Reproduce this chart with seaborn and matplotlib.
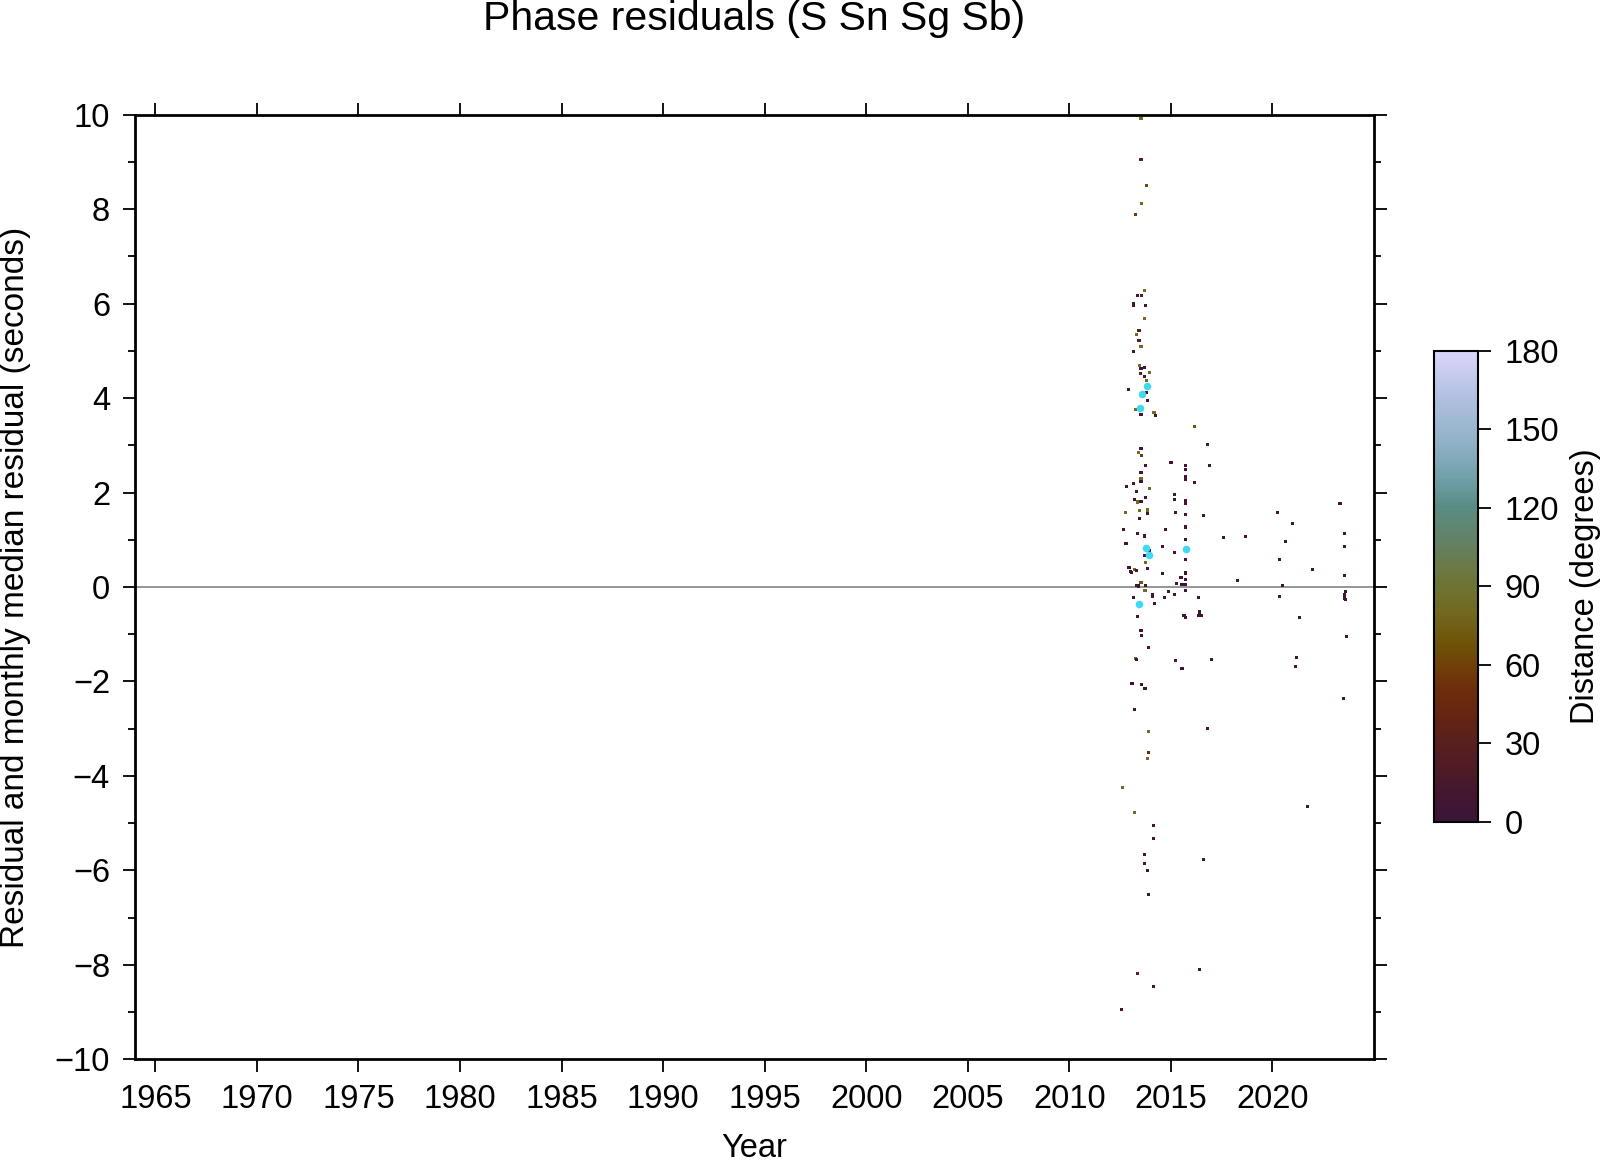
import numpy as np
import pandas as pd
import matplotlib
matplotlib.use("Agg")
import matplotlib.pyplot as plt
from matplotlib.colors import LinearSegmentedColormap, Normalize
from matplotlib.cm import ScalarMappable
from matplotlib.ticker import MultipleLocator
import seaborn as sns

# ---------------- data ----------------
D, M, B, O = 8, 30, 55, 82   # approximate distance classes (degrees)

res_year = [
    2013.53, 2013.53, 2013.79, 2013.55, 2013.25, 2013.69, 2013.37, 2013.55, 2013.18, 2013.15,
    2013.74, 2013.71, 2013.43, 2013.30, 2013.43, 2013.53, 2013.18, 2013.45, 2013.53, 2013.69,
    2013.50, 2013.69, 2013.97, 2013.78,
    2012.92, 2013.79, 2013.84, 2013.28, 2013.53, 2014.17, 2014.24, 2016.15, 2016.80, 2013.53,
    2013.40, 2013.55, 2015.01, 2013.74, 2015.70, 2015.70, 2016.89, 2013.53, 2015.70, 2015.70,
    2013.53, 2013.53, 2016.15, 2012.81, 2013.15, 2013.97, 2013.30, 2015.16, 2013.20, 2013.74,
    2015.16, 2013.38, 2013.53, 2015.70, 2015.70, 2015.70, 2012.76, 2013.46, 2013.83, 2013.84,
    2015.21, 2015.70, 2016.59, 2013.46, 2015.70, 2012.66, 2014.73, 2013.35, 2013.71, 2015.70,
    2012.79, 2014.57, 2015.16, 2013.69, 2013.96, 2015.70, 2013.74, 2012.94, 2013.83, 2013.02,
    2013.05, 2013.23, 2013.30, 2014.57, 2015.70, 2015.73, 2015.50, 2015.70, 2015.26, 2015.55,
    2015.73, 2013.53, 2013.32, 2013.41, 2013.74, 2013.73, 2014.88, 2014.09, 2014.11, 2015.16,
    2014.68, 2013.15, 2016.36, 2015.70, 2014.19, 2013.35, 2015.65, 2015.72, 2016.39, 2016.34,
    2016.51,
    2023.33, 2020.24, 2021.00, 2020.65, 2023.56, 2023.56, 2017.58, 2018.68, 2020.34, 2021.98,
    2023.56, 2018.27, 2020.49, 2023.58, 2023.56, 2023.56, 2023.58, 2020.34, 2021.33, 2023.64,
    2021.18, 2021.15, 2023.51, 2015.21, 2016.99, 2015.55, 2021.74,
    2013.53, 2013.55, 2013.88, 2013.25, 2013.32, 2013.09, 2013.55, 2013.73, 2013.23, 2013.89,
    2016.80, 2013.88, 2013.83, 2012.61, 2013.20, 2014.14, 2014.14, 2013.69, 2013.69, 2013.83,
    2016.59, 2013.88, 2016.39, 2013.35, 2014.14, 2012.56,
]

res_value = [
    9.92, 9.05, 8.50, 8.12, 7.88, 6.28, 6.17, 6.17, 6.01, 5.96,
    5.96, 5.69, 5.44, 5.34, 5.21, 5.09, 4.99, 4.69, 4.63, 4.65,
    4.52, 4.45, 4.54, 4.38,
    4.19, 4.12, 3.94, 3.76, 3.66, 3.69, 3.63, 3.39, 3.01, 2.93,
    2.84, 2.79, 2.63, 2.57, 2.58, 2.49, 2.57, 2.42, 2.34, 2.28,
    2.29, 2.23, 2.21, 2.12, 2.19, 2.08, 2.02, 1.96, 1.86, 1.90,
    1.85, 1.80, 1.81, 1.83, 1.80, 1.76, 1.57, 1.62, 1.63, 1.56,
    1.57, 1.54, 1.51, 1.45, 1.27, 1.21, 1.21, 1.14, 1.08, 1.01,
    0.93, 0.86, 0.73, 0.66, 0.78, 0.59, 0.52, 0.42, 0.40, 0.33,
    0.30, 0.37, 0.35, 0.29, 0.31, 0.28, 0.20, 0.16, 0.08, 0.06,
    0.06, 0.09, 0.03, 0.02, 0.03, -0.08, -0.09, -0.16, -0.21, -0.15,
    -0.22, -0.23, -0.22, -0.08, -0.35, -0.63, -0.60, -0.65, -0.53, -0.60,
    -0.60,
    1.76, 1.57, 1.35, 0.96, 1.13, 0.85, 1.04, 1.07, 0.58, 0.37,
    0.25, 0.13, 0.04, -0.09, -0.17, -0.25, -0.27, -0.21, -0.65, -1.04,
    -1.50, -1.69, -2.37, -1.56, -1.53, -1.73, -4.65,
    -0.92, -1.03, -1.28, -1.52, -1.54, -2.05, -2.06, -2.15, -2.60, -3.06,
    -3.00, -3.50, -3.64, -4.25, -4.78, -5.05, -5.33, -5.66, -5.85, -6.00,
    -5.77, -6.51, -8.10, -8.18, -8.46, -8.94,
]

res_distance = [
    O, M, 65, O, B, O, D, M, D, D,
    D, O, M, O, M, O, D, O, D, D,
    M, D, O, O,
    D, D, D, O, D, O, D, 70, D, D,
    O, B, D, D, D, D, D, D, D, D,
    O, D, D, D, D, O, D, D, D, D,
    D, O, D, D, D, D, O, O, O, D,
    D, D, D, D, D, D, D, D, D, D,
    D, D, D, D, D, D, O, D, D, D,
    D, O, D, D, D, D, D, D, D, D,
    D, 70, D, D, D, O, D, D, D, D,
    D, D, D, D, D, D, D, D, D, D,
    D,
    D, D, D, D, D, D, D, D, D, D,
    D, D, D, D, D, D, D, D, D, D,
    D, D, D, D, D, D, D,
    D, D, D, O, D, D, D, D, D, O,
    D, 45, O, O, O, D, D, D, D, D,
    D, D, D, M, D, D,
]

med_year = [2013.84, 2013.60, 2013.50, 2013.79, 2013.92, 2015.77, 2013.43]
med_value = [4.26, 4.09, 3.78, 0.82, 0.68, 0.80, -0.36]

cbar_ticks = [0, 30, 60, 90, 120, 150, 180]
x_ticks = list(range(1965, 2025, 5))
y_ticks = list(range(-10, 11, 2))

# ---------------- colormap ----------------
cmap_colors = [
    (0.00, "#3a1438"), (0.08, "#48182c"), (0.15, "#561e20"), (0.22, "#642412"),
    (0.28, "#6e2e0c"), (0.33, "#704008"), (0.38, "#6e5408"), (0.45, "#726a20"),
    (0.53, "#6c7840"), (0.60, "#628268"), (0.67, "#5a8c84"), (0.73, "#70a0a8"),
    (0.80, "#8eb0c4"), (0.90, "#b0c0e0"), (1.00, "#dad6fa"),
]
cmap = LinearSegmentedColormap.from_list("dist", cmap_colors)
norm = Normalize(0, 180)

# ---------------- figure ----------------
sns.set_theme(style="white")
plt.rcParams["font.family"] = ["Liberation Sans", "DejaVu Sans"]
plt.rcParams["axes.unicode_minus"] = True

FS = 23.5
fig = plt.figure(figsize=(16.06, 11.62), dpi=100)
ax = fig.add_axes([0.0841, 0.0884, 0.7714, 0.8129])

df = pd.DataFrame({"year": res_year, "resid": res_value, "dist": res_distance})
dm = pd.DataFrame({"year": med_year, "resid": med_value})

ax.axhline(0, color="#8c8c8c", lw=1.3, zorder=1)
sns.scatterplot(data=df, x="year", y="resid", hue="dist", palette=cmap,
                hue_norm=norm, marker="s", s=5, linewidth=0, legend=False,
                ax=ax, zorder=3)
sns.scatterplot(data=dm, x="year", y="resid", color="#3fd9f3", s=30,
                linewidth=0, legend=False, ax=ax, zorder=4)

ax.set_xlim(1964, 2025)
ax.set_ylim(-10, 10)
ax.set_xticks(x_ticks)
ax.set_yticks(y_ticks)
ax.yaxis.set_minor_locator(MultipleLocator(1))
ax.set_yticklabels([f"{v}".replace("-", "\u2212") for v in y_ticks])

for s in ax.spines.values():
    s.set_linewidth(2.0)
    s.set_color("black")

ax.tick_params(axis="both", which="major", direction="out", length=9,
               width=1.3, color="black", labelsize=FS, pad=9,
               labelcolor="black",
               top=True, right=True, bottom=True, left=True,
               labeltop=False, labelright=False)
ax.tick_params(axis="y", which="minor", direction="out", length=5,
               width=1.3, color="black", left=True, right=True)

ax.set_xlabel("")
ax.set_ylabel("")
fig.text(0.4698, 0.0112, "Year", ha="center", va="center", fontsize=FS,
         color="black")
fig.text(0.0095, 0.4945, "Residual and monthly median residual (seconds)",
         rotation=90, ha="center", va="center", fontsize=24, color="black")
fig.text(0.4698, 0.984, "Phase residuals (S Sn Sg Sb)", ha="center",
         va="center", fontsize=29.5, color="black")

# colorbar
cax = fig.add_axes([0.8929, 0.2929, 0.0274, 0.4053])
sm = ScalarMappable(norm=norm, cmap=cmap)
cb = fig.colorbar(sm, cax=cax, ticks=cbar_ticks)
cb.outline.set_linewidth(1.5)
cb.outline.set_edgecolor("black")
cax.tick_params(direction="out", length=9, width=1.3, labelsize=FS, pad=10,
                color="black", labelcolor="black")
cb.set_label("Distance (degrees)", fontsize=FS, labelpad=8, color="black")

fig.savefig("out.png", dpi=100)
